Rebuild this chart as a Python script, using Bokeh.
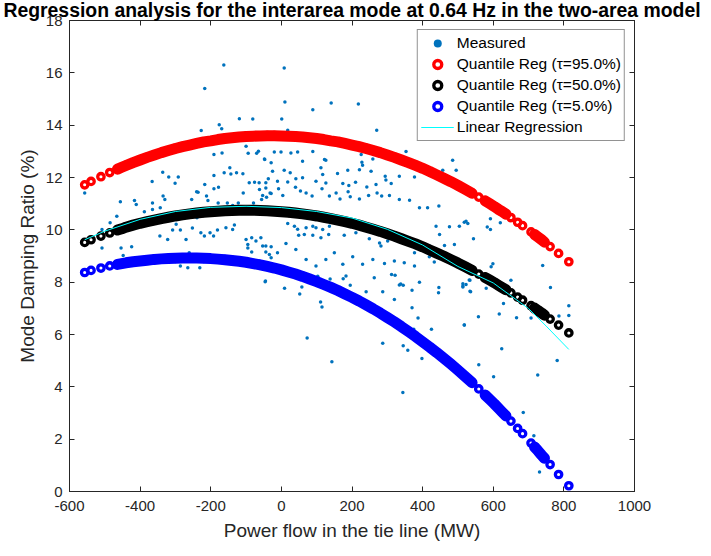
from bokeh.plotting import figure
from bokeh.models import LinearAxis, FixedTicker, Legend, LegendItem, Range1d
from bokeh.embed import file_html
from bokeh.resources import INLINE

title_text = "Regression analysis for the interarea mode at 0.64 Hz in the two-area model"
x_label = "Power flow in the tie line (MW)"
y_label = "Mode Damping Ratio (%)"
x_ticks = [-600, -400, -200, 0, 200, 400, 600, 800, 1000]
y_ticks = [0, 2, 4, 6, 8, 10, 12, 14, 16, 18]

meas_x = [-557, -227, -176, -169, -119, -81, -100, -94, -70, -191, -168, -29, -47, -65, -146, -143,
          -366, -336, -319, -292, -191, -162, -127, -109, -91, -76, -63, -44, -217, -191, -178, -108,
          -236, -301, -456, -416, -411, -365, -335, -330, -343, -365, -388, -254, -240, -212, -208,
          -179, -153, -138, -122, -79, -56, -42, -29, -62, -53, -485, -466, -388, -344, -322, -308,
          -298, -286, -270, -252, -239, -228, -218, -202, -192, -181, -157, -138, -133, -100, -95,
          -84, -72, -58, -53, -44, -29, -29, -95, -84, -454, -424, -448, -508, -508, -261, -286,
          -265, -231, -70, -62, -45, -163, -217,
          8, 10, 89, 141, 218, 1, 18, 270, 353, 485, 495, 457, -48, -20, -1, 27, 46, 89, 122, 126,
          60, 226, 228, 259, -25, 8, 25, 112, 117, 159, 188, 221, 230, 254, 294, 334, 377, -37, -11,
          18, 41, 60, 98, 126, 174, 191, 210, 242, 268, 296, 311, -44, -32, -8, 4, 40, 54, 70, 87,
          115, 136, 155, 166, 189, 195, 221, 247, 271, 284, 306, 334, 363, 391, 414, 446, 438, 476,
          504, 523, 18, 37, 46, 70, 89, 98, 117, 136, 49, 65, 89, 112, 134, 178, 211, 249, 278, 282,
          301, 334, 362, 377, 400, 419, 448, 462, 490, -44, -34, -11, 13, 41, 70, 98, 126, 150, 174,
          202, 230, 259, 292, 320, 348, 377, 419, 433,
          -46, 9, 52, 58, 103, 111, 115, 138, 139, 143, 166, 175, 183, 195, 240, 263, 287, 312, 322,
          320, 334, 338, 345, 370, 370, 387, 391, 375, 425, 446, 445, 514, 514, 532, 536, 518, 73,
          143, 287, 345, 358, 398, 344, 433,
          518, 528, 592, 583, 592, 620, 544, 599, 594, 740, 514, 523, 534, 534, 580, 650, 762, 629,
          617, 558, 518, 666, 707, 786, 814, 814, 624, 781, 559, 601, 726, 685, 715, 731]
meas_y = [11.41, 13.80, 14.02, 13.86, 14.25, 14.24, 13.19, 12.93, 12.93, 12.88, 12.94, 12.56, 12.69,
          13.00, 12.37, 12.13, 11.85, 12.20, 12.02, 12.02, 12.08, 12.18, 12.18, 12.14, 11.80, 11.82,
          11.80, 11.80, 11.73, 11.57, 11.63, 11.41, 11.44, 11.78, 11.07, 11.12, 10.97, 10.78, 11.29,
          11.16, 10.84, 11.03, 10.69, 11.16, 11.46, 11.29, 11.12, 11.03, 11.03, 10.93, 11.03, 11.03,
          11.16, 11.25, 11.39, 11.54, 11.31, 10.27, 10.52, 10.17, 9.76, 9.63, 9.99, 10.21, 9.99, 9.63,
          10.07, 10.46, 9.89, 9.76, 9.89, 9.76, 9.99, 10.08, 10.01, 10.18, 9.63, 9.44, 9.70, 9.57,
          9.70, 9.38, 9.15, 9.35, 8.93, 9.31, 9.15, 9.31, 9.35, 9.02, 9.31, 10.01, 9.12, 8.62, 8.55,
          8.55, 8.68, 8.81, 8.04, 16.30, 15.40,
          16.18, 14.89, 14.59, 14.85, 14.81, 14.24, 13.81, 13.81, 12.99, 12.66, 12.28, 12.28, 12.71,
          12.97, 12.97, 12.94, 12.97, 12.99, 12.69, 12.66, 12.62, 12.88, 12.58, 12.71, 12.24, 12.28,
          12.18, 12.37, 12.11, 12.15, 12.28, 12.30, 12.47, 12.24, 12.05, 12.05, 12.02, 11.95, 11.86,
          11.83, 11.95, 11.99, 11.86, 11.79, 11.77, 11.69, 11.82, 11.64, 11.73, 11.90, 11.77, 11.60,
          11.41, 11.57, 11.31, 11.63, 11.48, 11.41, 11.29, 11.57, 11.29, 11.41, 11.18, 11.46, 11.26,
          11.18, 11.31, 11.41, 11.29, 11.31, 11.16, 11.13, 10.84, 10.84, 10.91, 10.14, 10.12, 10.14,
          10.33, 10.24, 10.14, 10.02, 10.08, 10.14, 10.08, 10.01, 10.14, 9.79, 9.82, 9.79, 9.70, 9.82,
          9.79, 9.89, 9.66, 9.50, 9.38, 9.57, 9.57, 9.50, 9.12, 9.25, 9.38, 9.82, 9.40, 9.44, 9.38,
          9.06, 9.12, 9.48, 9.25, 8.87, 8.62, 8.87, 9.12, 8.68, 8.97, 8.68, 8.87, 8.71, 8.81, 8.74,
          8.62, 8.97, 8.77,
          8.02, 7.77, 7.55, 7.82, 8.23, 7.24, 7.05, 8.12, 7.95, 7.85, 7.80, 8.13, 8.24, 7.88, 7.63,
          8.17, 7.63, 8.29, 8.26, 7.34, 7.89, 7.93, 7.88, 7.69, 7.02, 6.63, 8.00, 6.20, 6.20, 7.80,
          7.60, 7.94, 7.82, 8.08, 7.63, 6.36, 5.87, 4.96, 5.67, 5.57, 5.40, 5.08, 3.78, 5.41,
          10.29, 10.24, 10.42, 10.11, 10.01, 10.27, 9.66, 8.70, 8.59, 8.64, 7.85, 7.91, 8.07, 7.65,
          7.77, 8.07, 7.80, 7.18, 6.78, 6.68, 6.36, 6.64, 6.63, 6.71, 7.10, 6.73, 5.46, 5.01, 4.84,
          4.39, 4.45, 3.02, 2.13, 0.75]

curve_x = [-557, -539, -511, -486, -464, -452, -440, -420, -400, -380, -360, -340, -320, -300, -280,
           -260, -240, -220, -200, -180, -160, -140, -120, -100, -80, -60, -40, -20, 0, 20, 40, 60,
           80, 100, 120, 140, 160, 180, 200, 220, 240, 260, 280, 300, 320, 340, 360, 380, 400, 420,
           440, 460, 480, 500, 520, 540, 559, 577, 590, 603, 615, 625, 636, 650, 669, 683, 707, 717,
           727, 737, 745, 761, 785, 814]
q95 = [11.72, 11.85, 12.03, 12.19, 12.32, 12.39, 12.46, 12.57, 12.67, 12.77, 12.86, 12.95, 13.03,
       13.11, 13.18, 13.24, 13.30, 13.36, 13.40, 13.45, 13.49, 13.52, 13.55, 13.57, 13.58, 13.59,
       13.60, 13.60, 13.59, 13.58, 13.57, 13.55, 13.52, 13.49, 13.45, 13.40, 13.36, 13.30, 13.24,
       13.18, 13.11, 13.03, 12.95, 12.86, 12.77, 12.67, 12.57, 12.46, 12.35, 12.23, 12.10, 11.97,
       11.84, 11.70, 11.55, 11.40, 11.25, 11.11, 11.00, 10.89, 10.78, 10.70, 10.60, 10.47, 10.29,
       10.16, 9.92, 9.82, 9.72, 9.62, 9.53, 9.36, 9.10, 8.78]
q50 = [9.52, 9.62, 9.76, 9.88, 9.99, 10.04, 10.10, 10.18, 10.25, 10.31, 10.37, 10.43, 10.48, 10.53,
       10.57, 10.61, 10.64, 10.67, 10.69, 10.71, 10.73, 10.74, 10.75, 10.75, 10.75, 10.74, 10.73,
       10.71, 10.69, 10.67, 10.64, 10.61, 10.57, 10.53, 10.48, 10.43, 10.37, 10.31, 10.25, 10.18,
       10.10, 10.02, 9.94, 9.85, 9.76, 9.66, 9.56, 9.46, 9.35, 9.23, 9.11, 8.99, 8.86, 8.73, 8.59,
       8.45, 8.31, 8.18, 8.08, 7.98, 7.88, 7.80, 7.71, 7.59, 7.43, 7.31, 7.10, 7.01, 6.91, 6.82,
       6.74, 6.59, 6.36, 6.06]
q05 = [8.37, 8.45, 8.54, 8.62, 8.68, 8.71, 8.74, 8.78, 8.81, 8.84, 8.87, 8.89, 8.90, 8.91, 8.92,
       8.92, 8.92, 8.91, 8.90, 8.88, 8.86, 8.83, 8.80, 8.76, 8.71, 8.66, 8.60, 8.54, 8.47, 8.39,
       8.31, 8.22, 8.12, 8.02, 7.91, 7.80, 7.68, 7.55, 7.42, 7.28, 7.13, 6.98, 6.82, 6.65, 6.48,
       6.30, 6.11, 5.92, 5.72, 5.52, 5.31, 5.09, 4.87, 4.64, 4.40, 4.16, 3.92, 3.69, 3.52, 3.35,
       3.18, 3.04, 2.89, 2.69, 2.41, 2.21, 1.85, 1.70, 1.55, 1.39, 1.27, 1.03, 0.65, 0.22]
# index runs where the quantile circles are so dense that they merge into a band
dense_runs = [(4, 56), (57, 63), (67, 71)]

lin_x = [-557, -500, -400, -300, -200, -100, 0, 100, 200, 300, 400, 500, 600, 700, 750, 814]
lin_y = [9.62, 9.95, 10.40, 10.70, 10.86, 10.90, 10.85, 10.70, 10.45, 10.02, 9.42, 8.60, 7.97,
         6.99, 6.32, 5.43]

FONT = "Liberation Sans"
AX = "#262626"

p = figure(width=700, height=548, output_backend="svg", toolbar_location=None,
           x_range=Range1d(-600, 1000), y_range=Range1d(0, 18),
           min_border_left=69, min_border_right=66, min_border_top=20, min_border_bottom=57)
p.grid.visible = False
p.outline_line_color = AX

p.title.text = title_text
p.title.text_font = FONT
p.title.text_font_size = "19.4px"
p.title.text_font_style = "bold"
p.title.text_color = "black"
p.title.align = "center"
p.title.vertical_align = "top"
p.title.offset = -5
p.title.standoff = -4

for ax, lab, ticks in ((p.xaxis[0], x_label, x_ticks), (p.yaxis[0], y_label, y_ticks)):
    ax.ticker = FixedTicker(ticks=ticks)
    ax.major_label_overrides = {t: str(t) for t in ticks}
    ax.axis_label = lab
    ax.axis_label_text_font = FONT
    ax.axis_label_text_font_size = "19px"
    ax.axis_label_text_font_style = "normal"
    ax.axis_label_text_color = AX
    ax.major_label_text_font = FONT
    ax.major_label_text_font_size = "15px"
    ax.major_label_text_color = AX
    ax.axis_line_color = AX
    ax.major_tick_line_color = AX
    ax.major_tick_in = 5
    ax.major_tick_out = 0
    ax.minor_tick_line_color = None
p.xaxis[0].major_label_standoff = 9
p.xaxis[0].axis_label_standoff = 6
p.yaxis[0].major_label_standoff = 7
p.yaxis[0].axis_label_standoff = 5

for loc, ticks in (("above", x_ticks), ("right", y_ticks)):
    a = LinearAxis(ticker=FixedTicker(ticks=ticks), major_label_text_font_size="1px",
                   major_label_text_color=None, major_tick_in=5, major_tick_out=0,
                   minor_tick_line_color=None, axis_line_color=AX, major_tick_line_color=AX,
                   major_label_standoff=0)
    p.add_layout(a, loc)

r_meas = p.scatter(meas_x, meas_y, marker="circle", size=3.5, fill_color="#0072BD",
                   line_color=None)

colors = ["#FF0000", "#000000", "#0000FF"]
q_renderers = []
for qy, col in zip((q95, q50, q05), colors):
    for a, b in dense_runs:
        p.line(curve_x[a:b], qy[a:b], line_color=col, line_width=11,
               line_join="round", line_cap="round")
    r = p.scatter(curve_x, qy, marker="circle", size=6.4, line_width=3.3,
                  line_color=col, fill_color=None)
    q_renderers.append(r)

r_lin = p.line(lin_x, lin_y, line_color="#00FFFF", line_width=1)

legend = Legend(items=[
    LegendItem(label="Measured", renderers=[r_meas]),
    LegendItem(label="Quantile Reg (\u03c4=95.0%)", renderers=[q_renderers[0]]),
    LegendItem(label="Quantile Reg (\u03c4=50.0%)", renderers=[q_renderers[1]]),
    LegendItem(label="Quantile Reg (\u03c4=5.0%)", renderers=[q_renderers[2]]),
    LegendItem(label="Linear Regression", renderers=[r_lin]),
], location="top_right", margin=9)
legend.label_text_font = FONT
legend.label_text_font_size = "15.5px"
legend.label_text_color = "black"
legend.border_line_color = AX
legend.border_line_width = 1
legend.background_fill_alpha = 1
legend.glyph_width = 33
legend.glyph_height = 20
legend.label_height = 20
legend.label_standoff = 3
legend.padding = 3
legend.spacing = 1
p.add_layout(legend)

open("out.html", "w").write(file_html(p, INLINE))
